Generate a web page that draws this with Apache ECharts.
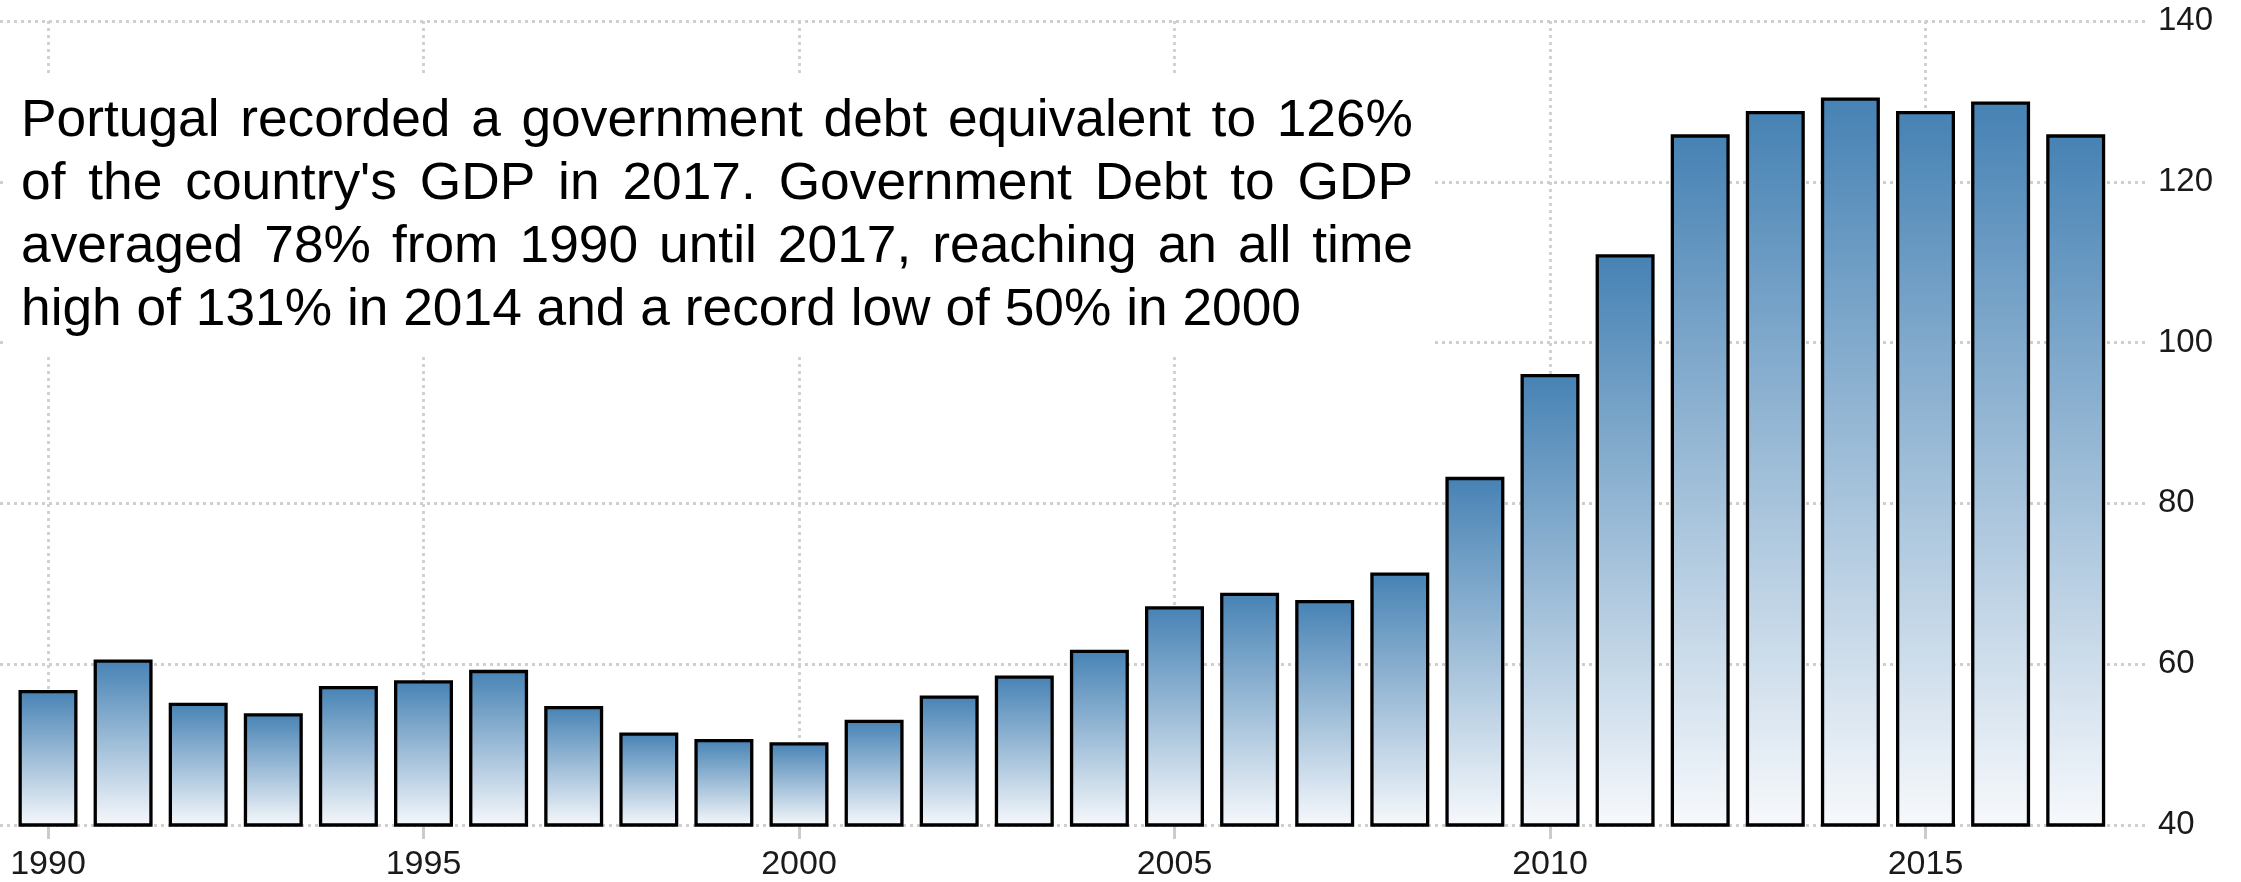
<!DOCTYPE html>
<html>
<head>
<meta charset="utf-8">
<title>Portugal Government Debt to GDP</title>
<script src="https://cdn.jsdelivr.net/npm/echarts@6/dist/echarts.min.js"></script>
<style>
  html, body { margin: 0; padding: 0; background: #ffffff; }
  #chart { width: 2241px; height: 882px; }
</style>
</head>
<body>
<div id="chart"></div>
<script>
// Government debt as % of GDP, yearly
const years = ['1990','1991','1992','1993','1994','1995','1996','1997','1998','1999',
               '2000','2001','2002','2003','2004','2005','2006','2007','2008','2009',
               '2010','2011','2012','2013','2014','2015','2016','2017'];
const debtToGdp = [56.8, 60.6, 55.2, 53.9, 57.3, 58.0, 59.3, 54.8, 51.5, 50.7,
                   50.3, 53.1, 56.1, 58.6, 61.8, 67.2, 68.9, 68.0, 71.4, 83.3,
                   96.1, 111.0, 125.9, 128.8, 130.5, 128.8, 130.0, 125.9];

// Value axis range and step
const yMin = 40;
const yMax = 140;
const yStep = 20;

// Summary paragraph, one entry per printed line
const summaryLines = [
  "Portugal recorded a government debt equivalent to 126%",
  "of the country's GDP in 2017. Government Debt to GDP",
  "averaged 78% from 1990 until 2017, reaching an all time",
  "high of 131% in 2014 and a record low of 50% in 2000"
];

const FONT = "'Liberation Sans', Arial, sans-serif";
const everyFifth = (idx) => idx % 5 === 0;
const gridLine = { color: '#cfcfcf', width: 2.8, type: [3, 4] };

// Build a justified paragraph as individual word elements
function paragraph() {
  const fontSize = 51, sx = 1.045;
  const left = 21, right = 1413, firstBaseline = 139.5, lineGap = 63;
  const ctx = document.createElement('canvas').getContext('2d');
  ctx.font = fontSize + 'px ' + FONT;
  const spaceW = ctx.measureText(' ').width * sx;
  const els = [];
  summaryLines.forEach((line, li) => {
    const words = line.split(' ');
    const widths = words.map(w => ctx.measureText(w).width * sx);
    const total = widths.reduce((a, b) => a + b, 0);
    const last = li === summaryLines.length - 1;
    const gap = last ? spaceW : (right - left - total) / (words.length - 1);
    let x = left;
    const y = firstBaseline + li * lineGap - 0.3465 * fontSize;
    words.forEach((w, wi) => {
      els.push({
        type: 'text', x: x, y: y, scaleX: sx, z: 51,
        style: { text: w, fontSize: fontSize, fontFamily: FONT, fill: '#000000',
                 align: 'left', verticalAlign: 'middle' }
      });
      x += widths[wi] + gap;
    });
  });
  return els;
}

const chart = echarts.init(document.getElementById('chart'), null, { renderer: 'canvas' });

chart.setOption({
  backgroundColor: '#ffffff',
  animation: false,
  grid: [
    { left: 0, top: 21, width: 2148, height: 804 },
    { left: 10.45, top: 21, width: 2102.8, height: 804 }
  ],
  xAxis: [
    { gridIndex: 0, type: 'value', show: false, min: 0, max: 1 },
    {
      gridIndex: 1, type: 'category', data: years, boundaryGap: true,
      axisLine: { show: false },
      axisTick: { show: true, alignWithLabel: true, interval: everyFifth, length: 14,
                  lineStyle: { color: '#cccccc', width: 3 } },
      axisLabel: { interval: everyFifth, fontSize: 34, fontFamily: FONT, color: '#1a1a1a', margin: 23 },
      splitLine: { show: true, alignWithLabel: true, interval: everyFifth, lineStyle: gridLine }
    }
  ],
  yAxis: [
    {
      gridIndex: 0, type: 'value', position: 'right', min: yMin, max: yMax, interval: yStep,
      axisLine: { show: false }, axisTick: { show: false },
      axisLabel: { margin: 10, fontSize: 33, fontFamily: FONT, color: '#1a1a1a' },
      splitLine: { show: true, lineStyle: gridLine }
    },
    { gridIndex: 1, type: 'value', show: false, min: yMin, max: yMax, interval: yStep,
      splitLine: { show: false } }
  ],
  series: [{
    type: 'bar',
    xAxisIndex: 1, yAxisIndex: 1,
    data: debtToGdp,
    barWidth: 59,
    itemStyle: {
      color: new echarts.graphic.LinearGradient(0, 0, 0, 1, [
        { offset: 0, color: '#4682b4' },
        { offset: 1, color: '#f7f9fc' }
      ]),
      borderColor: '#000000',
      borderWidth: 3.3
    }
  }],
  graphic: [
    { type: 'rect', z: 50, shape: { x: 3, y: 76, width: 1430, height: 279 },
      style: { fill: '#ffffff' } }
  ].concat(paragraph())
});
</script>
</body>
</html>
